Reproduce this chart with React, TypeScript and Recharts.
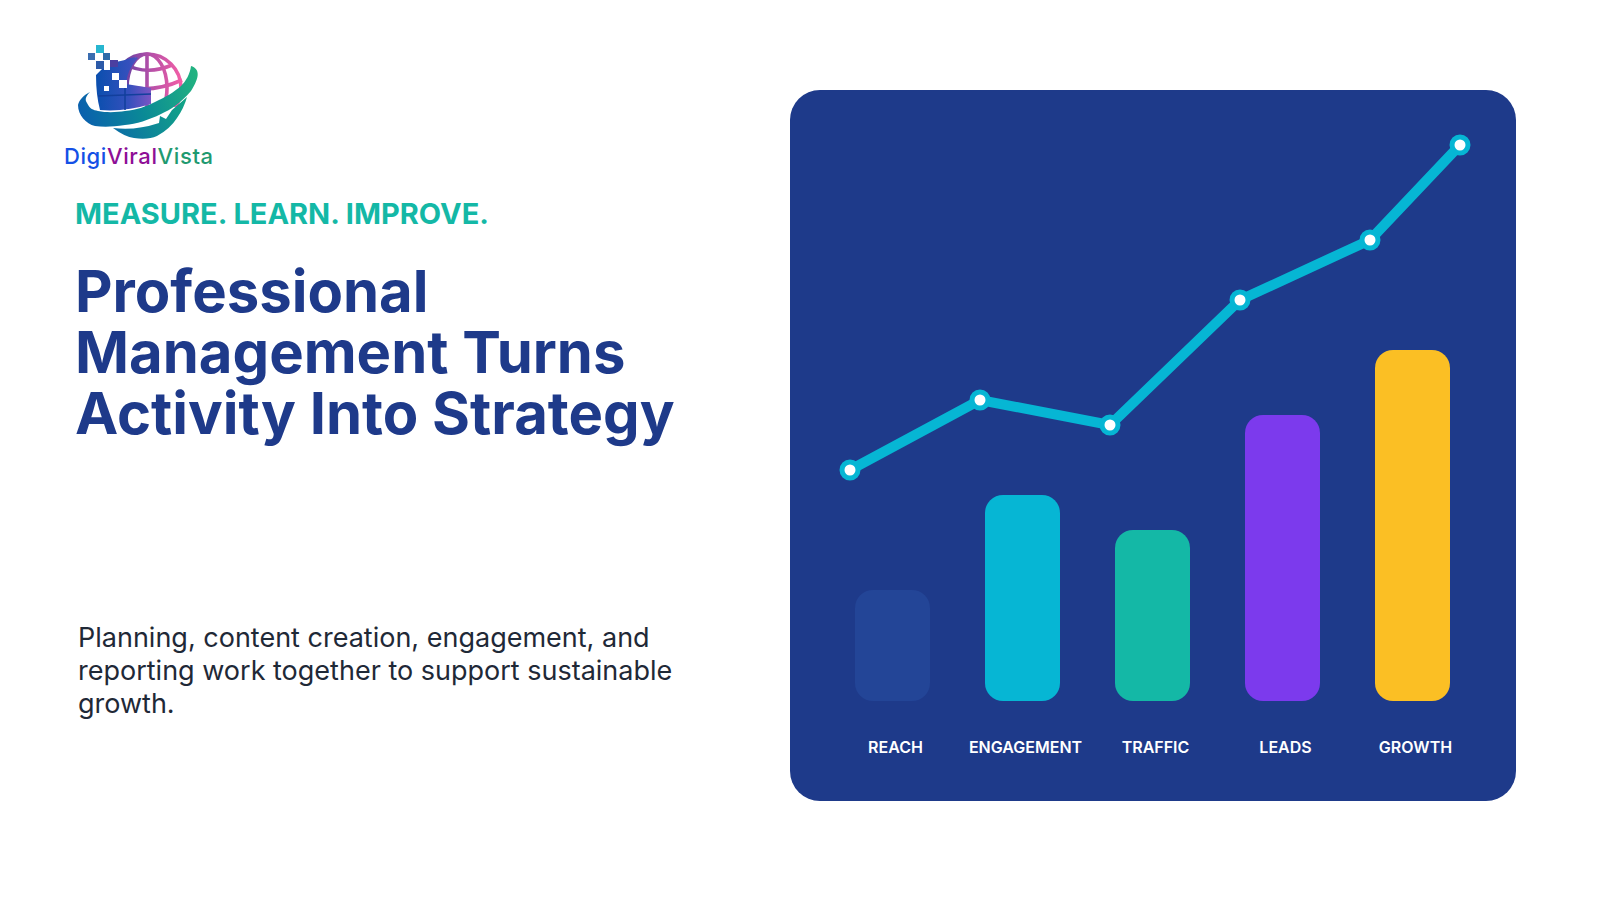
import React from "react";
import { ComposedChart, Bar, Line, XAxis, YAxis, Cell } from "recharts";

const categories = ["REACH", "ENGAGEMENT", "TRAFFIC", "LEADS", "GROWTH"];
const barValues = [111, 206, 171, 286, 351];
const barColors = ["#234597", "#06b6d4", "#14b8a6", "#7c3aed", "#fbbf24"];
const linePositions = [23, 153, 283, 413, 543, 633];
const lineValues = [231, 301, 276, 401, 461, 556];

const barData = categories.map((name, i) => ({ name, value: barValues[i] }));
const lineData = linePositions.map((pos, i) => ({ pos, value: lineValues[i] }));

const INTER = "Inter, sans-serif";

function Logo() {
  return (
    <svg width={240} height={180} style={{ position: "absolute", left: 0, top: 0 }}>
      <defs>
        <linearGradient id="shield" x1="0" y1="0" x2="1" y2="0">
          <stop offset="0" stopColor="#0a4fae" />
          <stop offset="0.6" stopColor="#3550bd" />
          <stop offset="1" stopColor="#7a55c4" />
        </linearGradient>
        <linearGradient id="globe" gradientUnits="userSpaceOnUse" x1="115" y1="70" x2="182" y2="70">
          <stop offset="0" stopColor="#4a3aa0" />
          <stop offset="0.5" stopColor="#b04fa8" />
          <stop offset="1" stopColor="#f45fa6" />
        </linearGradient>
        <linearGradient id="swoosh" gradientUnits="userSpaceOnUse" x1="78" y1="110" x2="197" y2="75">
          <stop offset="0" stopColor="#0a5fae" />
          <stop offset="0.5" stopColor="#0a8a96" />
          <stop offset="1" stopColor="#22b380" />
        </linearGradient>
        <linearGradient id="hand" gradientUnits="userSpaceOnUse" x1="113" y1="130" x2="185" y2="100">
          <stop offset="0" stopColor="#0a6ea6" />
          <stop offset="1" stopColor="#12a586" />
        </linearGradient>
        <clipPath id="globeTop">
          <rect x={100} y={45} width={90} height={62} />
        </clipPath>
      </defs>
      <g clipPath="url(#globeTop)" fill="none" stroke="url(#globe)" strokeWidth={3.6}>
        <circle cx={147} cy={88} r={34} />
        <ellipse cx={147} cy={88} rx={20} ry={34} />
        <line x1={147} y1={54} x2={147} y2={110} />
        <path d="M124 64 Q147 76 172 65" />
        <path d="M114 83 Q147 96 182 80" />
      </g>
      <path d="M96 75 L107 64 L125 60 Q135 56 138 58 Q127 70 126 84 L151 88 L151 104 Q125 112 100 110 Q96 95 96 75 Z" fill="url(#shield)" />
      <g stroke="#123f9c" strokeWidth={1.5}>
        <line x1={125} y1={86} x2={125} y2={110} />
        <line x1={98} y1={96} x2={151} y2={94} />
      </g>
      <path d="M113 128 Q125 137 134 138 Q148 140 157 136 Q170 129 177 118 Q184 108 187 97 L172 110 L166 119 L160 116 L159 123 Q135 131 113 128 Z" fill="url(#hand)" />
      <path d="M191 66 C200 69 200 77 191 91 C181 103 170 110 161 114 C149 120 136 124 125 125 C112 127 103 127 95 126 C86 124 78 115 78 105 C79 100 84 95 90 92 C85 97 85 100 87 103 C90 109 93 110 98 111 C108 113 118 112 125 111 C137 110 147 106 155 102 C166 97 174 92 181 86 C186 81 190 74 191 66 Z" fill="url(#swoosh)" />
      <g>
        <rect x={96} y={45} width={8} height={8} fill="#27b6d0" />
        <rect x={88} y={53} width={7} height={7} fill="#3a6db0" />
        <rect x={103} y={53} width={7} height={7} fill="#2c6aa8" />
        <rect x={96} y={61} width={8} height={8} fill="#2c5aa8" />
        <rect x={110} y={60} width={8} height={7} fill="#4b3fa0" />
        <rect x={104} y={63} width={6} height={7} fill="#ffffff" />
        <rect x={112} y={73} width={7} height={7} fill="#ffffff" />
        <rect x={119} y={80} width={8} height={8} fill="#ffffff" />
        <rect x={104} y={86} width={5} height={5} fill="#ffffff" />
      </g>
      <text x={64} y={164} fontFamily={INTER} fontSize={22} fontWeight={500} letterSpacing={0.6}>
        <tspan fill="#1450e6">Digi</tspan>
        <tspan fill="#8e0f96">Viral</tspan>
        <tspan fill="#1f9a70">Vista</tspan>
      </text>
    </svg>
  );
}

export default function App() {
  return (
    <div style={{ position: "absolute", left: 0, top: 0, width: 1600, height: 900, background: "#ffffff", overflow: "hidden", fontFamily: INTER }}>
      <Logo />
      <div style={{ position: "absolute", left: 75, top: 196, fontSize: 29, fontWeight: 700, color: "#14b8a6", whiteSpace: "nowrap", lineHeight: "36px" }}>
        MEASURE. LEARN. IMPROVE.
      </div>
      <div style={{ position: "absolute", left: 75, top: 261, width: 660, fontSize: 58, fontWeight: 700, color: "#1e3a8a", lineHeight: "61px" }}>
        Professional<br />Management Turns<br />Activity Into Strategy
      </div>
      <div style={{ position: "absolute", left: 78, top: 621, width: 640, fontSize: 27, fontWeight: 400, color: "#1f2937", lineHeight: "33.2px" }}>
        Planning, content creation, engagement, and<br />reporting work together to support sustainable<br />growth.
      </div>
      <div style={{ position: "absolute", left: 790, top: 90, width: 726, height: 711, background: "#1e3a8a", borderRadius: 30 }}>
        <ComposedChart
          width={726}
          height={711}
          data={barData}
          margin={{ top: 0, right: 39, bottom: 70, left: 37 }}
        >
          <XAxis
            xAxisId="bars"
            dataKey="name"
            axisLine={false}
            tickLine={false}
            interval={0}
            tickMargin={35}
            tick={{ fill: "#ffffff", fontSize: 16, fontWeight: 600, fontFamily: INTER, dx: 3.5 }}
          />
          <XAxis xAxisId="line" dataKey="pos" type="number" domain={[0, 650]} hide />
          <YAxis domain={[0, 611]} hide />
          <Bar xAxisId="bars" dataKey="value" barSize={75} radius={18} isAnimationActive={false}>
            {barValues.map((_, i) => (
              <Cell key={categories[i]} fill={barColors[i]} />
            ))}
          </Bar>
          <Line
            xAxisId="line"
            data={lineData}
            dataKey="value"
            stroke="#06b6d4"
            strokeWidth={10}
            dot={{ r: 8, fill: "#ffffff", stroke: "#06b6d4", strokeWidth: 5, fillOpacity: 1 }}
            isAnimationActive={false}
          />
        </ComposedChart>
      </div>
    </div>
  );
}
